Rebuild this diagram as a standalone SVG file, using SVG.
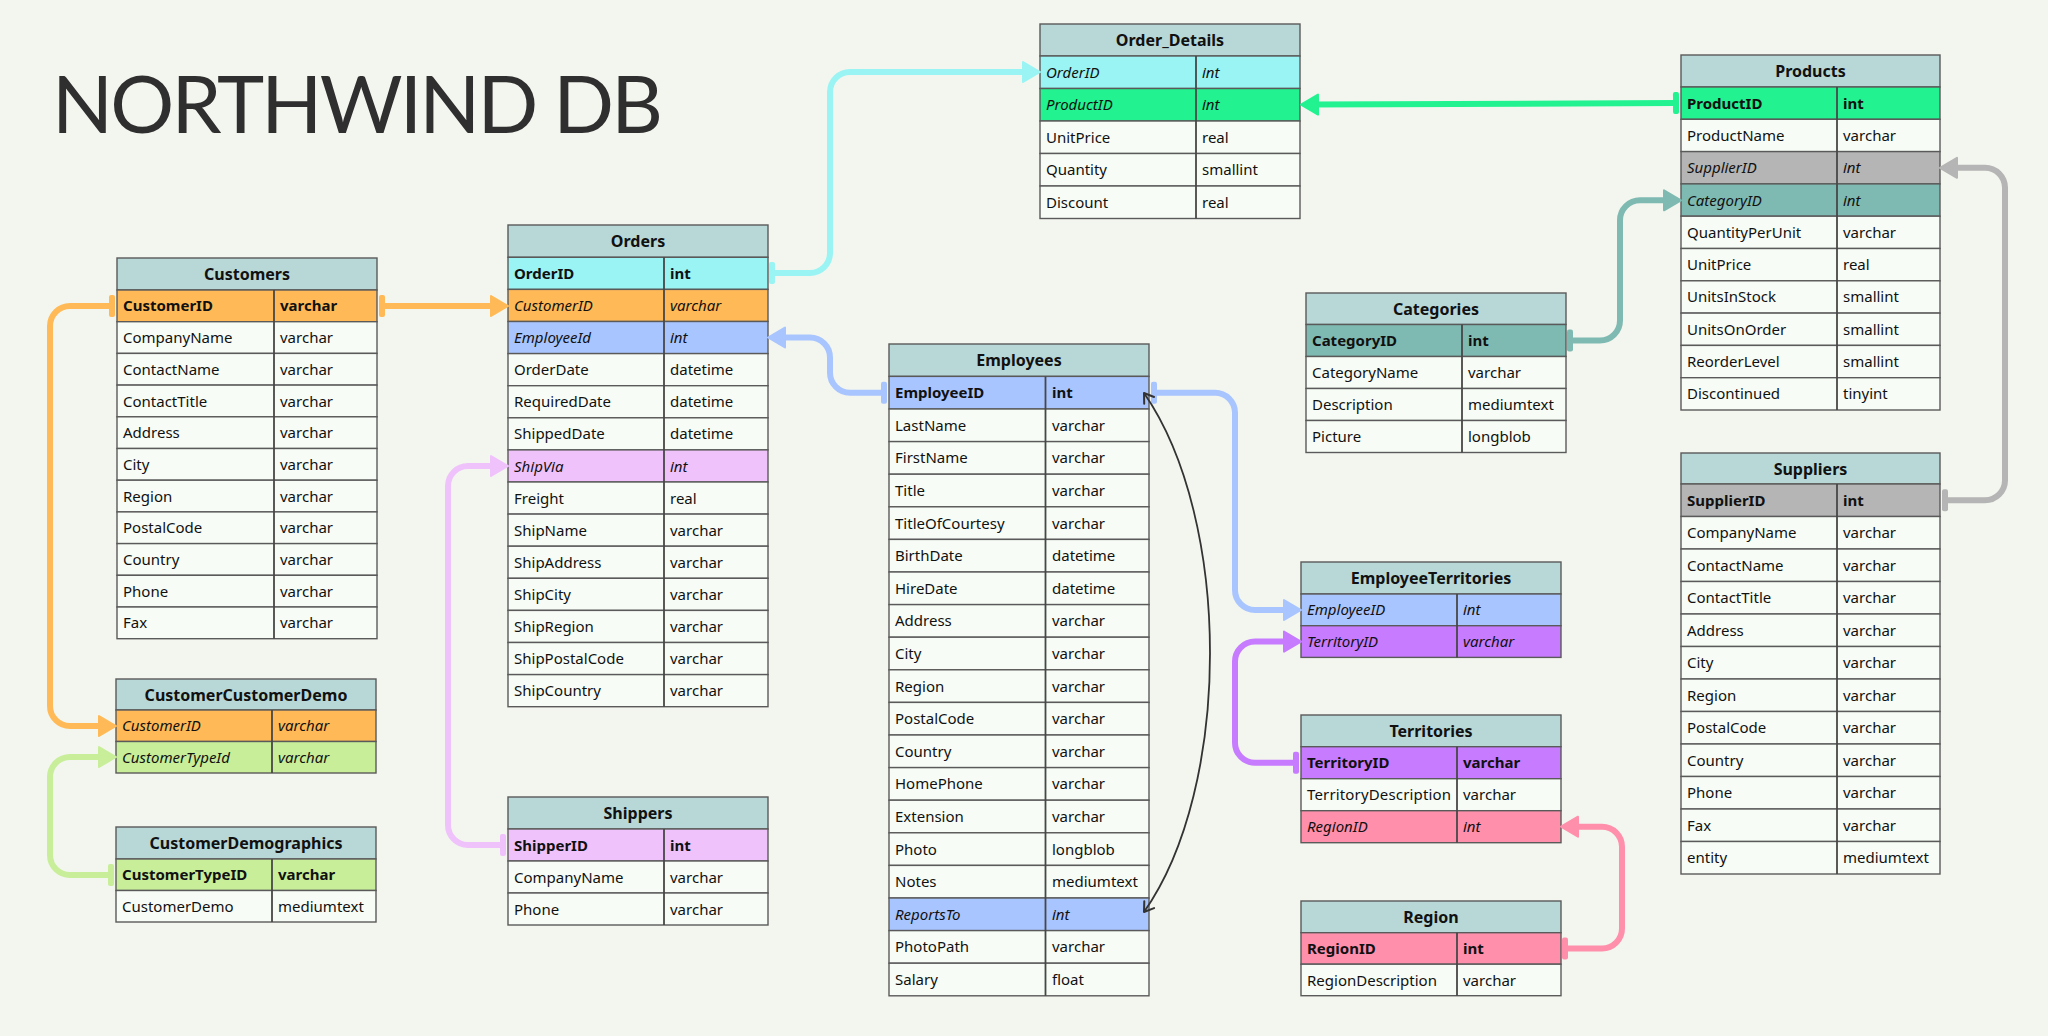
<svg xmlns="http://www.w3.org/2000/svg" width="2048" height="1036" viewBox="0 0 2048 1036">
<style>
.hd{fill:#B7D8D7;stroke:#5a5a5a;stroke-width:1.4}
.rw{fill:#F7FDF6;stroke:#5a5a5a;stroke-width:1.4}
.dv{stroke:#474747;stroke-width:1.8}
.t{font-family:"Noto Sans",sans-serif;font-weight:bold;font-size:16px;text-anchor:middle;fill:#111}
text.f{font-family:"Noto Sans",sans-serif;font-size:15px;fill:#111}
.b{font-weight:bold}
.i{font-style:italic}
.or{fill:#FFBA57}.cy{fill:#9AF4F3}.gr{fill:#22F290}.bl{fill:#A9C5FF}.pu{fill:#C77BFF}.pk{fill:#FF8FAB}.te{fill:#7FBAB2}.gy{fill:#B5B5B5}.lv{fill:#F0C2FB}.lg{fill:#C8EE9A}
.cn{fill:none;stroke-width:6;stroke-linecap:butt;stroke-linejoin:round}
</style>
<defs>
<marker id="a-or" viewBox="-1 -12 19 24" refX="7" refY="0" markerWidth="19" markerHeight="24" markerUnits="userSpaceOnUse" orient="auto"><path d="M0,-10 L17,0 L0,10 Z" fill="#FFBA57" stroke="#FFBA57" stroke-width="2" stroke-linejoin="round"/></marker>
<marker id="a-cy" viewBox="-1 -12 19 24" refX="7" refY="0" markerWidth="19" markerHeight="24" markerUnits="userSpaceOnUse" orient="auto"><path d="M0,-10 L17,0 L0,10 Z" fill="#9AF4F3" stroke="#9AF4F3" stroke-width="2" stroke-linejoin="round"/></marker>
<marker id="a-gr" viewBox="-1 -12 19 24" refX="7" refY="0" markerWidth="19" markerHeight="24" markerUnits="userSpaceOnUse" orient="auto"><path d="M0,-10 L17,0 L0,10 Z" fill="#22F290" stroke="#22F290" stroke-width="2" stroke-linejoin="round"/></marker>
<marker id="a-bl" viewBox="-1 -12 19 24" refX="7" refY="0" markerWidth="19" markerHeight="24" markerUnits="userSpaceOnUse" orient="auto"><path d="M0,-10 L17,0 L0,10 Z" fill="#A9C5FF" stroke="#A9C5FF" stroke-width="2" stroke-linejoin="round"/></marker>
<marker id="a-pu" viewBox="-1 -12 19 24" refX="7" refY="0" markerWidth="19" markerHeight="24" markerUnits="userSpaceOnUse" orient="auto"><path d="M0,-10 L17,0 L0,10 Z" fill="#C77BFF" stroke="#C77BFF" stroke-width="2" stroke-linejoin="round"/></marker>
<marker id="a-pk" viewBox="-1 -12 19 24" refX="7" refY="0" markerWidth="19" markerHeight="24" markerUnits="userSpaceOnUse" orient="auto"><path d="M0,-10 L17,0 L0,10 Z" fill="#FF8FAB" stroke="#FF8FAB" stroke-width="2" stroke-linejoin="round"/></marker>
<marker id="a-te" viewBox="-1 -12 19 24" refX="7" refY="0" markerWidth="19" markerHeight="24" markerUnits="userSpaceOnUse" orient="auto"><path d="M0,-10 L17,0 L0,10 Z" fill="#7FBAB2" stroke="#7FBAB2" stroke-width="2" stroke-linejoin="round"/></marker>
<marker id="a-gy" viewBox="-1 -12 19 24" refX="7" refY="0" markerWidth="19" markerHeight="24" markerUnits="userSpaceOnUse" orient="auto"><path d="M0,-10 L17,0 L0,10 Z" fill="#B5B5B5" stroke="#B5B5B5" stroke-width="2" stroke-linejoin="round"/></marker>
<marker id="a-lv" viewBox="-1 -12 19 24" refX="7" refY="0" markerWidth="19" markerHeight="24" markerUnits="userSpaceOnUse" orient="auto"><path d="M0,-10 L17,0 L0,10 Z" fill="#F0C2FB" stroke="#F0C2FB" stroke-width="2" stroke-linejoin="round"/></marker>
<marker id="a-lg" viewBox="-1 -12 19 24" refX="7" refY="0" markerWidth="19" markerHeight="24" markerUnits="userSpaceOnUse" orient="auto"><path d="M0,-10 L17,0 L0,10 Z" fill="#C8EE9A" stroke="#C8EE9A" stroke-width="2" stroke-linejoin="round"/></marker>
<marker id="t-or" viewBox="-4 -12 8 24" refX="0" refY="0" markerWidth="8" markerHeight="24" markerUnits="userSpaceOnUse" orient="auto"><rect x="-3" y="-11" width="6" height="22" rx="2" fill="#FFBA57"/></marker>
<marker id="t-cy" viewBox="-4 -12 8 24" refX="0" refY="0" markerWidth="8" markerHeight="24" markerUnits="userSpaceOnUse" orient="auto"><rect x="-3" y="-11" width="6" height="22" rx="2" fill="#9AF4F3"/></marker>
<marker id="t-gr" viewBox="-4 -12 8 24" refX="0" refY="0" markerWidth="8" markerHeight="24" markerUnits="userSpaceOnUse" orient="auto"><rect x="-3" y="-11" width="6" height="22" rx="2" fill="#22F290"/></marker>
<marker id="t-bl" viewBox="-4 -12 8 24" refX="0" refY="0" markerWidth="8" markerHeight="24" markerUnits="userSpaceOnUse" orient="auto"><rect x="-3" y="-11" width="6" height="22" rx="2" fill="#A9C5FF"/></marker>
<marker id="t-pu" viewBox="-4 -12 8 24" refX="0" refY="0" markerWidth="8" markerHeight="24" markerUnits="userSpaceOnUse" orient="auto"><rect x="-3" y="-11" width="6" height="22" rx="2" fill="#C77BFF"/></marker>
<marker id="t-pk" viewBox="-4 -12 8 24" refX="0" refY="0" markerWidth="8" markerHeight="24" markerUnits="userSpaceOnUse" orient="auto"><rect x="-3" y="-11" width="6" height="22" rx="2" fill="#FF8FAB"/></marker>
<marker id="t-te" viewBox="-4 -12 8 24" refX="0" refY="0" markerWidth="8" markerHeight="24" markerUnits="userSpaceOnUse" orient="auto"><rect x="-3" y="-11" width="6" height="22" rx="2" fill="#7FBAB2"/></marker>
<marker id="t-gy" viewBox="-4 -12 8 24" refX="0" refY="0" markerWidth="8" markerHeight="24" markerUnits="userSpaceOnUse" orient="auto"><rect x="-3" y="-11" width="6" height="22" rx="2" fill="#B5B5B5"/></marker>
<marker id="t-lv" viewBox="-4 -12 8 24" refX="0" refY="0" markerWidth="8" markerHeight="24" markerUnits="userSpaceOnUse" orient="auto"><rect x="-3" y="-11" width="6" height="22" rx="2" fill="#F0C2FB"/></marker>
<marker id="t-lg" viewBox="-4 -12 8 24" refX="0" refY="0" markerWidth="8" markerHeight="24" markerUnits="userSpaceOnUse" orient="auto"><rect x="-3" y="-11" width="6" height="22" rx="2" fill="#C8EE9A"/></marker>
<marker id="a-dk" viewBox="-2 -8 14 16" refX="10" refY="0" markerWidth="14" markerHeight="16" markerUnits="userSpaceOnUse" orient="auto-start-reverse"><path d="M1,-6 L10,0 L1,6" fill="none" stroke="#333" stroke-width="2" stroke-linecap="round" stroke-linejoin="round"/></marker>
</defs>
<rect width="2048" height="1036" fill="#F3F6EF"/>
<text x="52" y="133" font-family="Lato, 'Noto Sans', sans-serif" font-weight="400" font-size="80" textLength="611" lengthAdjust="spacing" fill="#2f2f2f">NORTHWIND DB</text>

<g id="customers" transform="translate(117,258)">
<rect class="hd" width="260" height="32"/><text class="t" x="130" y="22">Customers</text>
<rect class="rw or" y="32" width="260" height="31.7"/>
<rect class="rw" y="63.7" width="260" height="31.7"/>
<rect class="rw" y="95.4" width="260" height="31.7"/>
<rect class="rw" y="127.1" width="260" height="31.7"/>
<rect class="rw" y="158.8" width="260" height="31.7"/>
<rect class="rw" y="190.5" width="260" height="31.7"/>
<rect class="rw" y="222.2" width="260" height="31.7"/>
<rect class="rw" y="253.9" width="260" height="31.7"/>
<rect class="rw" y="285.6" width="260" height="31.7"/>
<rect class="rw" y="317.3" width="260" height="31.7"/>
<rect class="rw" y="349" width="260" height="31.7"/>
<line class="dv" x1="157" y1="32" x2="157" y2="380.7"/>
<text class="f b" x="6" y="53.4">CustomerID</text><text class="f b" x="163" y="53.4">varchar</text>
<text class="f" x="6" y="85.1">CompanyName</text><text class="f" x="163" y="85.1">varchar</text>
<text class="f" x="6" y="116.8">ContactName</text><text class="f" x="163" y="116.8">varchar</text>
<text class="f" x="6" y="148.5">ContactTitle</text><text class="f" x="163" y="148.5">varchar</text>
<text class="f" x="6" y="180.2">Address</text><text class="f" x="163" y="180.2">varchar</text>
<text class="f" x="6" y="211.9">City</text><text class="f" x="163" y="211.9">varchar</text>
<text class="f" x="6" y="243.6">Region</text><text class="f" x="163" y="243.6">varchar</text>
<text class="f" x="6" y="275.3">PostalCode</text><text class="f" x="163" y="275.3">varchar</text>
<text class="f" x="6" y="307">Country</text><text class="f" x="163" y="307">varchar</text>
<text class="f" x="6" y="338.7">Phone</text><text class="f" x="163" y="338.7">varchar</text>
<text class="f" x="6" y="370.4">Fax</text><text class="f" x="163" y="370.4">varchar</text>
</g>

<g id="orders" transform="translate(508,225)">
<rect class="hd" width="260" height="32.3"/><text class="t" x="130" y="22">Orders</text>
<rect class="rw cy" y="32.3" width="260" height="32.1"/>
<rect class="rw or" y="64.4" width="260" height="32.1"/>
<rect class="rw bl" y="96.5" width="260" height="32.1"/>
<rect class="rw" y="128.6" width="260" height="32.1"/>
<rect class="rw" y="160.7" width="260" height="32.1"/>
<rect class="rw" y="192.8" width="260" height="32.1"/>
<rect class="rw lv" y="224.9" width="260" height="32.1"/>
<rect class="rw" y="257" width="260" height="32.1"/>
<rect class="rw" y="289.1" width="260" height="32.1"/>
<rect class="rw" y="321.2" width="260" height="32.1"/>
<rect class="rw" y="353.3" width="260" height="32.1"/>
<rect class="rw" y="385.4" width="260" height="32.1"/>
<rect class="rw" y="417.5" width="260" height="32.1"/>
<rect class="rw" y="449.6" width="260" height="32.1"/>
<line class="dv" x1="156" y1="32.3" x2="156" y2="481.7"/>
<text class="f b" x="6" y="53.9">OrderID</text><text class="f b" x="162" y="53.9">int</text>
<text class="f i" x="6" y="86">CustomerID</text><text class="f i" x="162" y="86">varchar</text>
<text class="f i" x="6" y="118.1">EmployeeId</text><text class="f i" x="162" y="118.1">int</text>
<text class="f" x="6" y="150.2">OrderDate</text><text class="f" x="162" y="150.2">datetime</text>
<text class="f" x="6" y="182.3">RequiredDate</text><text class="f" x="162" y="182.3">datetime</text>
<text class="f" x="6" y="214.4">ShippedDate</text><text class="f" x="162" y="214.4">datetime</text>
<text class="f i" x="6" y="246.5">ShipVia</text><text class="f i" x="162" y="246.5">int</text>
<text class="f" x="6" y="278.6">Freight</text><text class="f" x="162" y="278.6">real</text>
<text class="f" x="6" y="310.7">ShipName</text><text class="f" x="162" y="310.7">varchar</text>
<text class="f" x="6" y="342.8">ShipAddress</text><text class="f" x="162" y="342.8">varchar</text>
<text class="f" x="6" y="374.9">ShipCity</text><text class="f" x="162" y="374.9">varchar</text>
<text class="f" x="6" y="407">ShipRegion</text><text class="f" x="162" y="407">varchar</text>
<text class="f" x="6" y="439.1">ShipPostalCode</text><text class="f" x="162" y="439.1">varchar</text>
<text class="f" x="6" y="471.2">ShipCountry</text><text class="f" x="162" y="471.2">varchar</text>
</g>

<g id="order_details" transform="translate(1040,24)">
<rect class="hd" width="260" height="32"/><text class="t" x="130" y="22">Order_Details</text>
<rect class="rw cy" y="32" width="260" height="32.5"/>
<rect class="rw gr" y="64.5" width="260" height="32.5"/>
<rect class="rw" y="97" width="260" height="32.5"/>
<rect class="rw" y="129.5" width="260" height="32.5"/>
<rect class="rw" y="162" width="260" height="32.5"/>
<line class="dv" x1="156" y1="32" x2="156" y2="194.5"/>
<text class="f i" x="6" y="53.6">OrderID</text><text class="f i" x="162" y="53.6">int</text>
<text class="f i" x="6" y="86.1">ProductID</text><text class="f i" x="162" y="86.1">int</text>
<text class="f" x="6" y="118.6">UnitPrice</text><text class="f" x="162" y="118.6">real</text>
<text class="f" x="6" y="151.1">Quantity</text><text class="f" x="162" y="151.1">smallint</text>
<text class="f" x="6" y="183.6">Discount</text><text class="f" x="162" y="183.6">real</text>
</g>

<g id="products" transform="translate(1681,55)">
<rect class="hd" width="259" height="32"/><text class="t" x="129.5" y="22">Products</text>
<rect class="rw gr" y="32" width="259" height="32.3"/>
<rect class="rw" y="64.3" width="259" height="32.3"/>
<rect class="rw gy" y="96.6" width="259" height="32.3"/>
<rect class="rw te" y="128.9" width="259" height="32.3"/>
<rect class="rw" y="161.2" width="259" height="32.3"/>
<rect class="rw" y="193.5" width="259" height="32.3"/>
<rect class="rw" y="225.8" width="259" height="32.3"/>
<rect class="rw" y="258.1" width="259" height="32.3"/>
<rect class="rw" y="290.4" width="259" height="32.3"/>
<rect class="rw" y="322.7" width="259" height="32.3"/>
<line class="dv" x1="156" y1="32" x2="156" y2="355"/>
<text class="f b" x="6" y="53.6">ProductID</text><text class="f b" x="162" y="53.6">int</text>
<text class="f" x="6" y="85.9">ProductName</text><text class="f" x="162" y="85.9">varchar</text>
<text class="f i" x="6" y="118.2">SupplierID</text><text class="f i" x="162" y="118.2">int</text>
<text class="f i" x="6" y="150.5">CategoryID</text><text class="f i" x="162" y="150.5">int</text>
<text class="f" x="6" y="182.8">QuantityPerUnit</text><text class="f" x="162" y="182.8">varchar</text>
<text class="f" x="6" y="215.1">UnitPrice</text><text class="f" x="162" y="215.1">real</text>
<text class="f" x="6" y="247.4">UnitsInStock</text><text class="f" x="162" y="247.4">smallint</text>
<text class="f" x="6" y="279.7">UnitsOnOrder</text><text class="f" x="162" y="279.7">smallint</text>
<text class="f" x="6" y="312">ReorderLevel</text><text class="f" x="162" y="312">smallint</text>
<text class="f" x="6" y="344.3">Discontinued</text><text class="f" x="162" y="344.3">tinyint</text>
</g>

<g id="categories" transform="translate(1306,293)">
<rect class="hd" width="260" height="31.5"/><text class="t" x="130" y="22">Categories</text>
<rect class="rw te" y="31.5" width="260" height="32"/>
<rect class="rw" y="63.5" width="260" height="32"/>
<rect class="rw" y="95.5" width="260" height="32"/>
<rect class="rw" y="127.5" width="260" height="32"/>
<line class="dv" x1="156" y1="31.5" x2="156" y2="159.5"/>
<text class="f b" x="6" y="53">CategoryID</text><text class="f b" x="162" y="53">int</text>
<text class="f" x="6" y="85">CategoryName</text><text class="f" x="162" y="85">varchar</text>
<text class="f" x="6" y="117">Description</text><text class="f" x="162" y="117">mediumtext</text>
<text class="f" x="6" y="149">Picture</text><text class="f" x="162" y="149">longblob</text>
</g>

<g id="employees" transform="translate(889,344)">
<rect class="hd" width="260" height="32.4"/><text class="t" x="130" y="22">Employees</text>
<rect class="rw bl" y="32.4" width="260" height="32.6"/>
<rect class="rw" y="65" width="260" height="32.6"/>
<rect class="rw" y="97.6" width="260" height="32.6"/>
<rect class="rw" y="130.2" width="260" height="32.6"/>
<rect class="rw" y="162.8" width="260" height="32.6"/>
<rect class="rw" y="195.4" width="260" height="32.6"/>
<rect class="rw" y="228" width="260" height="32.6"/>
<rect class="rw" y="260.6" width="260" height="32.6"/>
<rect class="rw" y="293.2" width="260" height="32.6"/>
<rect class="rw" y="325.8" width="260" height="32.6"/>
<rect class="rw" y="358.4" width="260" height="32.6"/>
<rect class="rw" y="391" width="260" height="32.6"/>
<rect class="rw" y="423.6" width="260" height="32.6"/>
<rect class="rw" y="456.2" width="260" height="32.6"/>
<rect class="rw" y="488.8" width="260" height="32.6"/>
<rect class="rw" y="521.4" width="260" height="32.6"/>
<rect class="rw bl" y="554" width="260" height="32.6"/>
<rect class="rw" y="586.6" width="260" height="32.6"/>
<rect class="rw" y="619.2" width="260" height="32.6"/>
<line class="dv" x1="156.5" y1="32.4" x2="156.5" y2="651.8"/>
<text class="f b" x="6" y="54.2">EmployeeID</text><text class="f b" x="163" y="54.2">int</text>
<text class="f" x="6" y="86.8">LastName</text><text class="f" x="163" y="86.8">varchar</text>
<text class="f" x="6" y="119.4">FirstName</text><text class="f" x="163" y="119.4">varchar</text>
<text class="f" x="6" y="152">Title</text><text class="f" x="163" y="152">varchar</text>
<text class="f" x="6" y="184.6">TitleOfCourtesy</text><text class="f" x="163" y="184.6">varchar</text>
<text class="f" x="6" y="217.2">BirthDate</text><text class="f" x="163" y="217.2">datetime</text>
<text class="f" x="6" y="249.8">HireDate</text><text class="f" x="163" y="249.8">datetime</text>
<text class="f" x="6" y="282.4">Address</text><text class="f" x="163" y="282.4">varchar</text>
<text class="f" x="6" y="315">City</text><text class="f" x="163" y="315">varchar</text>
<text class="f" x="6" y="347.6">Region</text><text class="f" x="163" y="347.6">varchar</text>
<text class="f" x="6" y="380.2">PostalCode</text><text class="f" x="163" y="380.2">varchar</text>
<text class="f" x="6" y="412.8">Country</text><text class="f" x="163" y="412.8">varchar</text>
<text class="f" x="6" y="445.4">HomePhone</text><text class="f" x="163" y="445.4">varchar</text>
<text class="f" x="6" y="478">Extension</text><text class="f" x="163" y="478">varchar</text>
<text class="f" x="6" y="510.6">Photo</text><text class="f" x="163" y="510.6">longblob</text>
<text class="f" x="6" y="543.2">Notes</text><text class="f" x="163" y="543.2">mediumtext</text>
<text class="f i" x="6" y="575.8">ReportsTo</text><text class="f i" x="163" y="575.8">int</text>
<text class="f" x="6" y="608.4">PhotoPath</text><text class="f" x="163" y="608.4">varchar</text>
<text class="f" x="6" y="641">Salary</text><text class="f" x="163" y="641">float</text>
</g>

<g id="employee_territories" transform="translate(1301,562)">
<rect class="hd" width="260" height="32"/><text class="t" x="130" y="22">EmployeeTerritories</text>
<rect class="rw bl" y="32" width="260" height="31.7"/>
<rect class="rw pu" y="63.7" width="260" height="31.7"/>
<line class="dv" x1="156" y1="32" x2="156" y2="95.4"/>
<text class="f i" x="6" y="53.4">EmployeeID</text><text class="f i" x="162" y="53.4">int</text>
<text class="f i" x="6" y="85.1">TerritoryID</text><text class="f i" x="162" y="85.1">varchar</text>
</g>

<g id="territories" transform="translate(1301,715)">
<rect class="hd" width="260" height="31.7"/><text class="t" x="130" y="22">Territories</text>
<rect class="rw pu" y="31.7" width="260" height="32"/>
<rect class="rw" y="63.7" width="260" height="32"/>
<rect class="rw pk" y="95.7" width="260" height="32"/>
<line class="dv" x1="156" y1="31.7" x2="156" y2="127.7"/>
<text class="f b" x="6" y="53.2">TerritoryID</text><text class="f b" x="162" y="53.2">varchar</text>
<text class="f" x="6" y="85.2" textLength="144">TerritoryDescription</text><text class="f" x="162" y="85.2">varchar</text>
<text class="f i" x="6" y="117.2">RegionID</text><text class="f i" x="162" y="117.2">int</text>
</g>

<g id="region" transform="translate(1301,901)">
<rect class="hd" width="260" height="31.7"/><text class="t" x="130" y="22">Region</text>
<rect class="rw pk" y="31.7" width="260" height="31.5"/>
<rect class="rw" y="63.2" width="260" height="31.5"/>
<line class="dv" x1="156" y1="31.7" x2="156" y2="94.7"/>
<text class="f b" x="6" y="53.1">RegionID</text><text class="f b" x="162" y="53.1">int</text>
<text class="f" x="6" y="84.6">RegionDescription</text><text class="f" x="162" y="84.6">varchar</text>
</g>

<g id="suppliers" transform="translate(1681,453)">
<rect class="hd" width="259" height="31"/><text class="t" x="129.5" y="21.5">Suppliers</text>
<rect class="rw gy" y="31" width="259" height="32.5"/>
<rect class="rw" y="63.5" width="259" height="32.5"/>
<rect class="rw" y="96" width="259" height="32.5"/>
<rect class="rw" y="128.5" width="259" height="32.5"/>
<rect class="rw" y="161" width="259" height="32.5"/>
<rect class="rw" y="193.5" width="259" height="32.5"/>
<rect class="rw" y="226" width="259" height="32.5"/>
<rect class="rw" y="258.5" width="259" height="32.5"/>
<rect class="rw" y="291" width="259" height="32.5"/>
<rect class="rw" y="323.5" width="259" height="32.5"/>
<rect class="rw" y="356" width="259" height="32.5"/>
<rect class="rw" y="388.5" width="259" height="32.5"/>
<line class="dv" x1="156" y1="31" x2="156" y2="421"/>
<text class="f b" x="6" y="52.7">SupplierID</text><text class="f b" x="162" y="52.7">int</text>
<text class="f" x="6" y="85.2">CompanyName</text><text class="f" x="162" y="85.2">varchar</text>
<text class="f" x="6" y="117.7">ContactName</text><text class="f" x="162" y="117.7">varchar</text>
<text class="f" x="6" y="150.2">ContactTitle</text><text class="f" x="162" y="150.2">varchar</text>
<text class="f" x="6" y="182.7">Address</text><text class="f" x="162" y="182.7">varchar</text>
<text class="f" x="6" y="215.2">City</text><text class="f" x="162" y="215.2">varchar</text>
<text class="f" x="6" y="247.7">Region</text><text class="f" x="162" y="247.7">varchar</text>
<text class="f" x="6" y="280.2">PostalCode</text><text class="f" x="162" y="280.2">varchar</text>
<text class="f" x="6" y="312.7">Country</text><text class="f" x="162" y="312.7">varchar</text>
<text class="f" x="6" y="345.2">Phone</text><text class="f" x="162" y="345.2">varchar</text>
<text class="f" x="6" y="377.7">Fax</text><text class="f" x="162" y="377.7">varchar</text>
<text class="f" x="6" y="410.2">entity</text><text class="f" x="162" y="410.2">mediumtext</text>
</g>

<g id="shippers" transform="translate(508,797)">
<rect class="hd" width="260" height="32"/><text class="t" x="130" y="22">Shippers</text>
<rect class="rw lv" y="32" width="260" height="32"/>
<rect class="rw" y="64" width="260" height="32"/>
<rect class="rw" y="96" width="260" height="32"/>
<line class="dv" x1="156" y1="32" x2="156" y2="128"/>
<text class="f b" x="6" y="53.5">ShipperID</text><text class="f b" x="162" y="53.5">int</text>
<text class="f" x="6" y="85.5">CompanyName</text><text class="f" x="162" y="85.5">varchar</text>
<text class="f" x="6" y="117.5">Phone</text><text class="f" x="162" y="117.5">varchar</text>
</g>

<g id="customer_customer_demo" transform="translate(116,679)">
<rect class="hd" width="260" height="31"/><text class="t" x="130" y="21.5">CustomerCustomerDemo</text>
<rect class="rw or" y="31" width="260" height="31.5"/>
<rect class="rw lg" y="62.5" width="260" height="31.5"/>
<line class="dv" x1="156" y1="31" x2="156" y2="94"/>
<text class="f i" x="6" y="52.2">CustomerID</text><text class="f i" x="162" y="52.2">varchar</text>
<text class="f i" x="6" y="83.7">CustomerTypeId</text><text class="f i" x="162" y="83.7">varchar</text>
</g>

<g id="customer_demographics" transform="translate(116,827)">
<rect class="hd" width="260" height="32"/><text class="t" x="130" y="22">CustomerDemographics</text>
<rect class="rw lg" y="32" width="260" height="31.5"/>
<rect class="rw" y="63.5" width="260" height="31.5"/>
<line class="dv" x1="156" y1="32" x2="156" y2="95"/>
<text class="f b" x="6" y="53.2">CustomerTypeID</text><text class="f b" x="162" y="53.2">varchar</text>
<text class="f" x="6" y="84.7">CustomerDemo</text><text class="f" x="162" y="84.7">mediumtext</text>
</g>

<g id="connectors">
<path class="cn" stroke="#FFBA57" d="M382,306 H498" marker-start="url(#t-or)" marker-end="url(#a-or)"/>
<path class="cn" stroke="#FFBA57" d="M112,306 H70 A20,20 0 0 0 50,326 V706 A20,20 0 0 0 70,726 H106" marker-start="url(#t-or)" marker-end="url(#a-or)"/>
<path class="cn" stroke="#C8EE9A" d="M111,875 H70 A20,20 0 0 1 50,855 V777 A20,20 0 0 1 70,757 H106" marker-start="url(#t-lg)" marker-end="url(#a-lg)"/>
<path class="cn" stroke="#9AF4F3" d="M772,273 H810 A20,20 0 0 0 830,253 V92 A20,20 0 0 1 850,72 H1030" marker-start="url(#t-cy)" marker-end="url(#a-cy)"/>
<path class="cn" stroke="#22F290" d="M1676,103 L1311,104.6" marker-start="url(#t-gr)" marker-end="url(#a-gr)"/>
<path class="cn" stroke="#A9C5FF" d="M884,392.7 H850 A20,20 0 0 1 830,372.7 V357.5 A20,20 0 0 0 810,337.5 H778" marker-start="url(#t-bl)" marker-end="url(#a-bl)"/>
<path class="cn" stroke="#A9C5FF" d="M1154,392.7 H1215 A20,20 0 0 1 1235,412.7 V590 A20,20 0 0 0 1255,610 H1291" marker-start="url(#t-bl)" marker-end="url(#a-bl)"/>
<path class="cn" stroke="#C77BFF" d="M1296,762.7 H1255 A20,20 0 0 1 1235,742.7 V661.6 A20,20 0 0 1 1255,641.6 H1291" marker-start="url(#t-pu)" marker-end="url(#a-pu)"/>
<path class="cn" stroke="#FF8FAB" d="M1565,948.4 H1602 A20,20 0 0 0 1622,928.4 V846.7 A20,20 0 0 0 1602,826.7 H1571" marker-start="url(#t-pk)" marker-end="url(#a-pk)"/>
<path class="cn" stroke="#7FBAB2" d="M1570,340.5 H1600 A20,20 0 0 0 1620,320.5 V220.3 A20,20 0 0 1 1640,200.3 H1671" marker-start="url(#t-te)" marker-end="url(#a-te)"/>
<path class="cn" stroke="#B5B5B5" d="M1945,500.3 H1985 A20,20 0 0 0 2005,480.3 V187.8 A20,20 0 0 0 1985,167.8 H1950" marker-start="url(#t-gy)" marker-end="url(#a-gy)"/>
<path class="cn" stroke="#F0C2FB" d="M503,845 H468 A20,20 0 0 1 448,825 V486 A20,20 0 0 1 468,466 H498" marker-start="url(#t-lv)" marker-end="url(#a-lv)"/>
<path d="M1144,393 C1232,520 1232,787 1144,912" fill="none" stroke="#333" stroke-width="1.8" marker-start="url(#a-dk)" marker-end="url(#a-dk)"/>
</g>
</svg>
